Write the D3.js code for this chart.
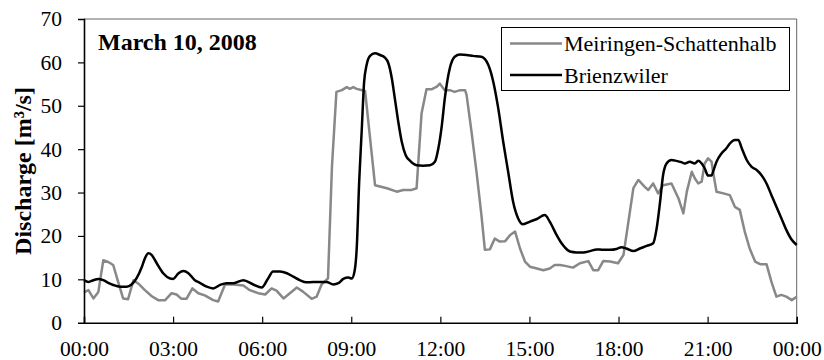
<!DOCTYPE html>
<html><head><meta charset="utf-8">
<script src="https://cdn.jsdelivr.net/npm/d3@7"></script>
<style>body{margin:0;background:#fff}svg{display:block}</style>
</head><body><svg id="c" width="824" height="360"></svg>
<script>
const chartTitle = "March 10, 2008";
const yAxisTitle = "Discharge [m³/s]";
const seriesNames = ["Meiringen-Schattenhalb", "Brienzwiler"];
const xTickMinutes = [0, 180, 360, 540, 720, 900, 1080, 1260, 1440];
const xTickLabels = ["00:00", "03:00", "06:00", "09:00", "12:00", "15:00", "18:00", "21:00", "00:00"];
const yTickValues = [0, 10, 20, 30, 40, 50, 60, 70];

// minutes since midnight
const meiringenMin = [0,9,19,29,39,49,59,69,79,89,100,110,123,137,150,164,177,187,197,207,219,231,244,261,271,285,302,322,335,352,366,379,389,403,416,430,443,460,470,480,493,501,510,521,531,537,544,551,558,568,588,612,632,645,662,672,682,692,702,713,719,729,739,749,760,770,773,783,793,803,810,820,830,840,851,861,871,881,891,901,915,928,941,951,962,972,988,1002,1019,1029,1039,1049,1063,1079,1090,1100,1110,1120,1133,1140,1150,1160,1170,1187,1201,1211,1218,1228,1234,1241,1248,1254,1261,1268,1271,1278,1292,1305,1315,1325,1335,1345,1356,1366,1379,1389,1399,1409,1419,1430,1440];
const meiringenQ = [7,7.5,5.6,7.1,14.4,14,13.3,9.4,5.6,5.4,9.8,9,7.5,6.1,5.2,5.2,6.8,6.5,5.5,5.5,7.9,6.8,6.3,5.2,4.9,8.8,8.8,8.6,7.5,6.8,6.5,7.9,7.4,5.6,6.8,8.1,7.1,5.5,6,8.8,10.2,36,53.2,53.6,54.3,53.9,54.3,53.9,53.7,53.4,31.7,31,30.2,30.6,30.6,31,48.2,53.8,53.8,54.4,55.1,53.6,53.6,53.2,53.6,53.6,52.5,44,34.8,24.8,16.8,16.9,19.4,18.7,18.8,20.2,21,17.1,14.1,12.9,12.5,12.1,12.5,13.3,13.3,13.1,12.7,13.7,14.2,12.1,12.1,14.2,14.1,13.7,15.6,23.3,31,32.9,31.3,30.6,32.1,29.8,31.7,32.1,28.7,25.2,30.2,34.8,33.3,32.1,32.5,36.7,37.9,37.1,34.8,30.2,29.8,29.4,26.7,26,21,17.1,14.1,13.5,13.5,9.4,6,6.4,6,5.2,6];

const brienzwilerMin = [0,9,19,29,39,49,59,73,86,96,106,117,123,130,137,147,160,174,180,191,201,211,224,234,248,261,275,288,302,322,342,359,372,382,396,410,423,436,450,463,477,490,504,514,524,534,541,547,551,556,561,566,571,578,588,598,608,615,622,628,635,642,650,659,672,685,699,709,716,723,729,739,749,760,773,786,803,817,827,837,847,857,867,877,887,901,915,931,941,955,965,972,982,995,1009,1022,1036,1049,1063,1076,1086,1096,1110,1123,1137,1150,1157,1164,1170,1177,1187,1197,1207,1214,1224,1234,1241,1248,1254,1261,1268,1271,1278,1288,1298,1305,1315,1322,1329,1339,1349,1359,1369,1379,1389,1399,1409,1419,1430,1440];
const brienzwilerQ = [9.8,9.4,9.8,10.1,9.8,9.2,8.7,8.3,8.3,8.8,10.2,12.9,14.8,16,15.6,13.7,11.4,10.2,10.1,11.4,11.9,11.4,9.8,9.2,8.3,7.9,8.7,9.1,9.1,9.8,8.8,8.1,10.2,11.8,11.8,11.4,10.6,9.8,9.3,9.4,9.4,9.4,8.8,9.1,10.1,10.4,10.2,12.1,17.1,32.5,44,55.5,59.4,61.5,62.1,61.7,61.1,59.8,56.3,51.7,46.3,41.7,38.6,37.3,36.3,36.2,36.3,37.1,40.2,45.5,51.7,58.6,61.3,61.8,61.7,61.5,61.3,59.4,55.5,49.4,41.7,34.8,27.9,24.1,22.7,23.3,23.9,24.8,23.3,20.2,18.3,17.3,16.4,16.2,16.2,16.5,16.9,16.8,16.8,17,17.4,17.1,16.5,17.1,17.7,18.3,21.7,27.9,34,36.7,37.5,37.3,37,36.7,37.1,36.7,37.3,36.7,35.6,33.9,33.9,34.8,37.1,39,40.2,41.3,42.1,42.1,40.2,37.5,35.9,35.2,34,32.1,29.4,26.7,24.1,21.4,19.1,17.9];

const seriesColors = ["#888888", "#000000"];
const FONT = '"Liberation Serif", "Times New Roman", Tinos, serif';

const W = 824, H = 360;
const m = {left: 84, right: 824 - 796.7, top: 19, bottom: 360 - 322.7};
const svg = d3.select("#c");
const x = d3.scaleLinear().domain([0, 1440]).range([m.left, W - m.right]);
const y = d3.scaleLinear().domain([0, 70]).range([H - m.bottom, m.top]);

svg.append("path")
  .attr("d", `M${x(0)},${y(70)}H${x(1440)}V${y(0)}`)
  .attr("fill", "none").attr("stroke", "#666").attr("stroke-width", 1);

const series = [
  {t: meiringenMin, v: meiringenQ, curve: d3.curveLinear, w: 2.5},
  {t: brienzwilerMin, v: brienzwilerQ, curve: d3.curveMonotoneX, w: 2.5}
];
series.forEach((s, i) => {
  const pts = s.t.map((t, k) => [t, s.v[k]]);
  svg.append("path").datum(pts)
    .attr("fill", "none").attr("stroke", seriesColors[i]).attr("stroke-width", s.w)
    .attr("stroke-linejoin", "round")
    .attr("d", d3.line().x(d => x(d[0])).y(d => y(d[1])).curve(s.curve));
});

const xAxis = svg.append("g").attr("transform", `translate(0,${y(0)})`)
  .call(d3.axisBottom(x).tickValues(xTickMinutes).tickSize(-6).tickPadding(18)
    .tickFormat((d, i) => xTickLabels[i]));
xAxis.attr("font-family", FONT);
xAxis.select(".domain").attr("stroke", "#000").attr("stroke-width", 1.6);
xAxis.selectAll(".tick line").attr("stroke", "#000").attr("stroke-width", 1.2)
  .attr("display", (d, i) => (i === 0 || i === xTickMinutes.length - 1) ? "none" : null);
xAxis.selectAll(".tick text").style("font-family", FONT).style("font-size", "21.5px").attr("fill", "#000");

const yAxis = svg.append("g").attr("transform", `translate(${x(0)},0)`)
  .call(d3.axisLeft(y).tickValues(yTickValues).tickSize(6).tickPadding(16).tickFormat(d3.format("d")));
yAxis.attr("font-family", FONT);
yAxis.select(".domain").attr("stroke", "#000").attr("stroke-width", 1.6);
yAxis.selectAll(".tick line").attr("stroke", "#000").attr("stroke-width", 1.2)
  .attr("display", d => (d === 0 || d === 70) ? "none" : null);
yAxis.selectAll(".tick text").style("font-family", FONT).style("font-size", "21.5px").attr("fill", "#000");

svg.append("text").attr("transform", `translate(31,171) rotate(-90)`)
  .attr("text-anchor", "middle").style("font-family", FONT).style("font-weight", "bold")
  .style("font-size", "24px").text(yAxisTitle);

svg.append("text").attr("x", 98).attr("y", 50).style("font-family", FONT)
  .style("font-weight", "bold").style("font-size", "24px").text(chartTitle);

const lg = svg.append("g");
lg.append("rect").attr("x", 501.5).attr("y", 27.5).attr("width", 288).attr("height", 63)
  .attr("fill", "#fff").attr("stroke", "#000").attr("stroke-width", 1);
seriesNames.forEach((n, i) => {
  const yy = 43.5 + i * 31.5;
  lg.append("line").attr("x1", 510).attr("x2", 562).attr("y1", yy).attr("y2", yy)
    .attr("stroke", seriesColors[i]).attr("stroke-width", 2.5);
  lg.append("text").attr("x", 564).attr("y", yy + 7.5).style("font-family", FONT)
    .style("font-size", "22px").text(n);
});
</script></body></html>
